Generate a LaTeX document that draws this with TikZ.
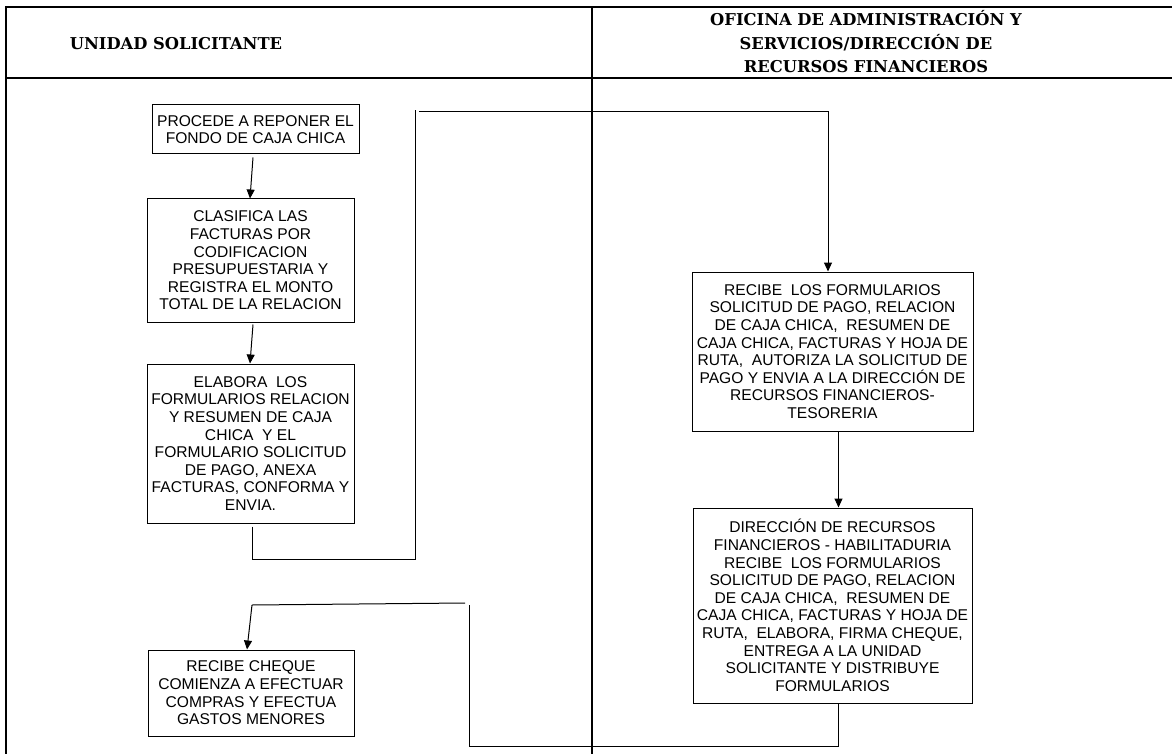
\documentclass[tikz,border=0pt]{standalone}
\usepackage{fontspec}
\setmainfont{Liberation Sans}
\newfontfamily\hdrfont{DejaVu Serif}
\usetikzlibrary{arrows.meta}
\begin{document}
\begin{tikzpicture}[x=1pt,y=-1pt,
  frame/.style={line width=1.3pt},
  stepbox/.style={draw,line width=1pt,align=center,inner sep=0pt,
    font=\fontsize{15.6}{17.6}\selectfont},
  flow/.style={line width=1pt},
  arr/.style={flow,-{Triangle[length=9pt,width=8pt]}},
  hdr/.style={font=\hdrfont\bfseries\fontsize{16.3}{23.5}\selectfont,align=center}]
\useasboundingbox (0,0) rectangle (1172,754);
% swimlane frame
\draw[frame] (6,754) -- (6,7) -- (1172,7);
\draw[frame] (6,78) -- (1172,78);
\draw[frame] (592,7) -- (592,754);
% lane headers
\node[hdr] (h1) at (176,44) {UNIDAD SOLICITANTE};
\node[hdr] (h2) at (866,42) {OFICINA DE ADMINISTRACIÓN Y\\SERVICIOS/DIRECCIÓN DE\\RECURSOS FINANCIEROS};
% steps
\node[stepbox,minimum width=207pt,minimum height=49pt] (b1) at (255.5,129.5)
  {PROCEDE A REPONER EL\\FONDO DE CAJA CHICA};
\node[stepbox,minimum width=207pt,minimum height=123pt] (b2) at (250.5,260.5)
  {CLASIFICA LAS\\FACTURAS POR\\CODIFICACION\\PRESUPUESTARIA Y\\REGISTRA EL MONTO\\TOTAL DE LA RELACION};
\node[stepbox,minimum width=207pt,minimum height=159pt] (b3) at (250.5,443.5)
  {ELABORA\ \ LOS\\FORMULARIOS RELACION\\Y RESUMEN DE CAJA\\CHICA\ \ Y EL\\FORMULARIO SOLICITUD\\DE PAGO, ANEXA\\FACTURAS, CONFORMA Y\\ENVIA.};
\node[stepbox,minimum width=281pt,minimum height=159pt] (b4) at (832.5,351.5)
  {RECIBE\ \ LOS FORMULARIOS\\SOLICITUD DE PAGO, RELACION\\DE CAJA CHICA,\ \ RESUMEN DE\\CAJA CHICA, FACTURAS Y HOJA DE\\RUTA,\ \ AUTORIZA LA SOLICITUD DE\\PAGO Y ENVIA A LA DIRECCIÓN DE\\RECURSOS FINANCIEROS-\\TESORERIA};
\node[stepbox,minimum width=279pt,minimum height=195pt] (b5) at (832.5,605.5)
  {DIRECCIÓN DE RECURSOS\\FINANCIEROS - HABILITADURIA\\RECIBE\ \ LOS FORMULARIOS\\SOLICITUD DE PAGO, RELACION\\DE CAJA CHICA,\ \ RESUMEN DE\\CAJA CHICA, FACTURAS Y HOJA DE\\RUTA,\ \ ELABORA, FIRMA CHEQUE,\\ENTREGA A LA UNIDAD\\SOLICITANTE Y DISTRIBUYE\\FORMULARIOS};
\node[stepbox,minimum width=206pt,minimum height=86pt] (b6) at (251,693)
  {RECIBE CHEQUE\\COMIENZA A EFECTUAR\\COMPRAS Y EFECTUA\\GASTOS MENORES};
% connector bends
\coordinate (c1) at (415,559);
\coordinate (c2) at (415,110);
\coordinate (c3) at (419,112);
\coordinate (c4) at (469,746);
\coordinate (c5) at (469,605);
\coordinate (c6) at (465,603);
\coordinate (c7) at (252,605);
% connectors
\draw[arr] ([xshift=-2.5pt,yshift=-3pt]b1.south) -- ([xshift=-0.5pt]b2.north);
\draw[arr] ([xshift=2.5pt,yshift=-2pt]b2.south) -- ([xshift=-0.5pt]b3.north);
\draw[flow] ([xshift=1.5pt,yshift=-3pt]b3.south) |- (c1) -- (c2);
\draw[arr] (c3) -| ([xshift=-4.5pt]b4.north);
\draw[arr] ([xshift=6pt]b4.south) -- ([xshift=6pt]b5.north);
\draw[flow] ([xshift=6pt]b5.south) |- (c4) -- (c5);
\draw[flow] (c6) -- (c7);
\draw[arr] (c7) -- ([xshift=-4pt]b6.north);
\end{tikzpicture}
\end{document}
